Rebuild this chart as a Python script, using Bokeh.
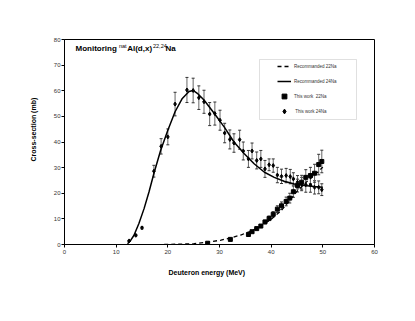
import numpy as np
from bokeh.plotting import figure
from bokeh.models import (Range1d, SingleIntervalTicker, Label, Legend, LegendItem,
                          ColumnDataSource, Whisker, TeeHead, BoxAnnotation, Title)
from bokeh.embed import file_html
from bokeh.resources import INLINE

# ---- data ----
na24_e = [12.5, 13.8, 15.0, 17.3, 18.7, 20.0, 21.4, 23.7, 24.9, 26.0, 27.0, 28.1, 29.1,
          30.1, 31.0, 32.0, 32.8, 33.9, 34.6, 35.6, 36.3, 37.2, 38.0, 38.8, 39.6, 40.4,
          41.2, 42.0, 42.9, 43.7, 44.3, 45.1, 45.9, 46.7, 47.6, 48.4, 49.2, 49.8]
na24_y = [1.4, 3.6, 6.5, 28.6, 38.3, 42.0, 54.8, 60.3, 60.1, 57.3, 55.7, 50.9, 51.1,
          48.5, 43.5, 41.0, 39.6, 40.9, 36.5, 33.4, 36.5, 32.8, 33.4, 29.5, 31.1, 30.8,
          27.1, 26.6, 26.9, 26.5, 25.6, 24.3, 23.6, 23.3, 23.2, 22.3, 22.3, 21.4]
na24_err = [0.2, 0.3, 0.4, 2.3, 3.0, 3.1, 4.6, 4.9, 4.8, 4.6, 4.5, 4.5, 4.5,
            3.9, 3.8, 3.7, 3.6, 3.7, 3.5, 3.3, 3.1, 3.3, 3.3, 3.3, 2.3, 2.6,
            3.0, 2.8, 2.8, 2.8, 2.4, 2.6, 2.6, 2.9, 2.8, 2.6, 2.5, 2.3]

na22_e = [27.7, 32.1, 35.6, 36.3, 37.2, 38.0, 38.8, 39.6, 40.4, 41.2, 42.0, 42.9,
          43.6, 44.3, 45.1, 45.9, 46.7, 47.6, 48.4, 49.2, 49.8]
na22_y = [0.5, 2.0, 3.9, 5.0, 6.2, 7.2, 8.8, 10.2, 11.8, 13.8, 15.1, 16.8,
          18.1, 20.6, 23.0, 24.3, 26.2, 26.9, 27.8, 31.2, 32.4]
na22_err = [0.1, 0.2, 0.3, 0.4, 0.5, 0.6, 0.7, 0.9, 1.0, 1.3, 1.5, 1.7,
            1.9, 2.2, 2.5, 2.7, 3.0, 3.2, 3.5, 4.0, 4.4]

rec24_e = [12.2, 12.8, 13.45, 14.4, 15.4, 16.35, 17.3, 18.6, 20.0, 21.4, 22.8, 24.1, 24.9,
           25.7, 27.0, 29.0, 30.9, 32.8, 34.8, 36.7, 38.7, 40.6, 42.5, 44.5, 46.4, 48.4, 50.0]
rec24_y = [0.3, 1.6, 3.6, 8.2, 14.0, 20.5, 27.7, 36.7, 44.6, 51.8, 57.0, 59.7, 60.1,
           59.0, 56.4, 51.1, 45.9, 40.0, 35.4, 31.5, 28.2, 26.2, 24.7, 23.6, 23.0, 22.6, 22.3]

rec22_e = [19.3, 25.1, 27.7, 30.3, 32.2, 34.1, 36.1, 38.0, 39.9, 41.9, 43.8, 45.1,
           47.1, 49.0, 50.0]
rec22_y = [0.0, 0.3, 0.9, 1.7, 2.6, 3.7, 5.2, 7.2, 9.7, 13.1, 17.7, 21.0,
           24.9, 28.2, 30.2]

x_ticks_interval = 10
y_ticks_interval = 10

# ---- figure ----
p = figure(width=415, height=321, output_backend="svg", toolbar_location=None,
           x_range=Range1d(0, 60), y_range=Range1d(0, 80),
           min_border_left=64, min_border_right=41, min_border_top=39, min_border_bottom=77)
p.frame_width = 310
p.frame_height = 205
p.xgrid.visible = False
p.ygrid.visible = False
p.outline_line_color = "black"
p.outline_line_width = 1
p.background_fill_color = "white"
p.border_fill_color = "white"

for ax, iv in ((p.xaxis, x_ticks_interval), (p.yaxis, y_ticks_interval)):
    ax.ticker = SingleIntervalTicker(interval=iv, num_minor_ticks=0)
    ax.major_label_text_font = "Liberation Sans"
    ax.major_label_text_font_size = "6px"
    ax.major_label_text_color = "#333333"
    ax.major_tick_out = 3
    ax.major_tick_in = 0
    ax.minor_tick_out = 0
    ax.minor_tick_in = 0
    ax.axis_line_color = "black"
    ax.major_tick_line_color = "black"
p.xaxis.major_label_standoff = 2
p.yaxis.major_label_standoff = 1

# error bars
s24 = ColumnDataSource(dict(x=na24_e, y=na24_y,
                            lo=[a - b for a, b in zip(na24_y, na24_err)],
                            hi=[a + b for a, b in zip(na24_y, na24_err)]))
s22 = ColumnDataSource(dict(x=na22_e, y=na22_y,
                            lo=[a - b for a, b in zip(na22_y, na22_err)],
                            hi=[a + b for a, b in zip(na22_y, na22_err)]))
for src in (s24, s22):
    w = Whisker(base="x", upper="hi", lower="lo", source=src,
                line_color="#666666", line_width=1,
                upper_head=TeeHead(size=3, line_color="#333333", line_width=1),
                lower_head=TeeHead(size=3, line_color="#333333", line_width=1))
    p.add_layout(w)

r_rec22 = p.line(rec22_e, rec22_y, line_color="black", line_width=1.3, line_dash="4 3")
r_rec24 = p.line(rec24_e, rec24_y, line_color="black", line_width=1.5)
r_22 = p.scatter("x", "y", source=s22, marker="square", size=4,
                 fill_color="black", line_color="black")
r_24 = p.scatter("x", "y", source=s24, marker="diamond", size=4,
                 fill_color="black", line_color="black")

# legend box
box = BoxAnnotation(left=195, right=292, top=185, bottom=125,
                    left_units="screen", right_units="screen",
                    top_units="screen", bottom_units="screen",
                    fill_color="white", fill_alpha=1, line_color="#999999", line_width=1)
p.add_layout(box)

legend = Legend(items=[
    LegendItem(label="Recommanded 22Na", renderers=[r_rec22]),
    LegendItem(label="Recommanded 24Na", renderers=[r_rec24]),
    LegendItem(label="This work  22Na", renderers=[r_22]),
    LegendItem(label=" This work 24Na", renderers=[r_24]),
], location=(213, 127), padding=0, spacing=3, glyph_width=14, glyph_height=12,
    label_height=12, label_standoff=3, label_text_font="Liberation Sans",
    label_text_font_size="4.5px", label_text_color="#333333",
    border_line_alpha=0, background_fill_alpha=0, margin=0)
p.add_layout(legend)

# title (inside plot)
bold = dict(x_units="screen", y_units="screen", text_font="Liberation Sans",
            text_font_style="bold", text_font_size="8px", text_color="black",
            text_baseline="alphabetic")
sup = dict(x_units="screen", y_units="screen", text_font="Liberation Sans",
           text_font_size="5.5px", text_color="black", text_baseline="alphabetic")
p.add_layout(Label(x=11, y=196, text="Monitoring", **bold))
p.add_layout(Label(x=54.5, y=199, text="nat", **sup))
p.add_layout(Label(x=62.7, y=196, text="Al(d,x)", **bold))
p.add_layout(Label(x=88.5, y=199, text="22,24", **sup))
p.add_layout(Label(x=101, y=196, text="Na", **bold))

# axis titles
p.add_layout(Title(text="Deuteron energy (MeV)", align="left", offset=104,
                   text_font="Liberation Sans", text_font_style="bold",
                   text_font_size="7px", text_color="black", standoff=20), "below")
p.add_layout(Title(text="Cross-section (mb)", align="left", offset=83,
                   text_font="Liberation Sans", text_font_style="bold",
                   text_font_size="7px", text_color="black", standoff=28), "left")

open("out.html", "w").write(file_html(p, INLINE))
